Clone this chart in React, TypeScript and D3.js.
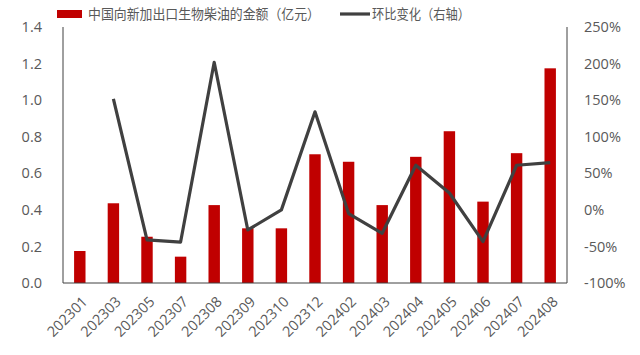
import React from "react";
import * as d3 from "d3";

const categories = ["202301","202303","202305","202307","202308","202309","202310","202312","202402","202403","202404","202405","202406","202407","202408"];
const amounts = [0.175,0.436,0.253,0.144,0.426,0.299,0.299,0.704,0.663,0.426,0.69,0.83,0.445,0.71,1.174];
const momChange: (number | null)[] = [null,151.6,-41,-44,201.8,-27.5,0,134,-5,-32,61,23,-43.5,61,64.5];
const leftTicks = [0,0.2,0.4,0.6,0.8,1.0,1.2,1.4];
const rightTicks = [-100,-50,0,50,100,150,200,250];
const barLabel = "中国向新加出口生物柴油的金额（亿元）";
const lineLabel = "环比变化（右轴）";

export default function App() {
  const W = 640, H = 355;
  const left = 63, right = 567, top = 27, bottom = 283;
  const x = d3.scaleBand<string>().domain(categories).range([left, right]).paddingInner(0.66).paddingOuter(0.33);
  const yL = d3.scaleLinear().domain([0, 1.4]).range([bottom, top]);
  const yR = d3.scaleLinear().domain([-100, 250]).range([bottom, top]);
  const pts = categories.map((c, i) => ({ c, v: momChange[i] })).filter(d => d.v !== null) as { c: string; v: number }[];
  const line = d3.line<{ c: string; v: number }>()
    .x(d => (x(d.c) as number) + x.bandwidth() / 2)
    .y(d => yR(d.v));
  const font = "'Open Sans', 'Noto Sans CJK SC', sans-serif";
  const tickColor = "#595959";
  const cjk = "'Noto Sans CJK SC', sans-serif";
  return (
    <svg width={W} height={H} style={{ position: "absolute", left: 0, top: 0, background: "#fff" }} fontFamily={font}>
      {amounts.map((v, i) => (
        <rect key={categories[i]} x={x(categories[i])} y={yL(v)} width={x.bandwidth()} height={bottom - yL(v)} fill="#c00000" />
      ))}
      <path d={line(pts) || ""} fill="none" stroke="#404040" strokeWidth={3.2} strokeLinejoin="round" />
      <line x1={left} x2={left} y1={top} y2={bottom} stroke="#404040" strokeWidth={1} />
      <line x1={right} x2={right} y1={top} y2={bottom} stroke="#404040" strokeWidth={1} />
      <line x1={left} x2={right} y1={bottom} y2={bottom} stroke="#404040" strokeWidth={1} />
      {leftTicks.map(t => (
        <text key={t} x={42} y={yL(t)} dy="0.35em" textAnchor="end" fontSize={14.5} fill={tickColor}>{t.toFixed(1)}</text>
      ))}
      {rightTicks.map(t => (
        <text key={t} x={584} y={yR(t)} dy="0.35em" textAnchor="start" fontSize={14.5} fill={tickColor}>{t}%</text>
      ))}
      {categories.map(c => {
        const cx = (x(c) as number) + x.bandwidth() / 2;
        return (
          <text key={c} transform={`translate(${cx + 5},${bottom + 16}) rotate(-45)`} textAnchor="end" dy="0.35em" fontSize={14.5} fill={tickColor}>{c}</text>
        );
      })}
      <rect x={57} y={10} width={25} height={8} fill="#c00000" />
      <text x={88} y={14} dy="0.35em" fontSize={14} fill={tickColor} fontFamily={cjk} textLength={232} lengthAdjust="spacingAndGlyphs">{barLabel}</text>
      <line x1={340} x2={370} y1={14} y2={14} stroke="#404040" strokeWidth={3.2} />
      <text x={372} y={14} dy="0.35em" fontSize={14} fill={tickColor} fontFamily={cjk} textLength={98} lengthAdjust="spacingAndGlyphs">{lineLabel}</text>
    </svg>
  );
}
